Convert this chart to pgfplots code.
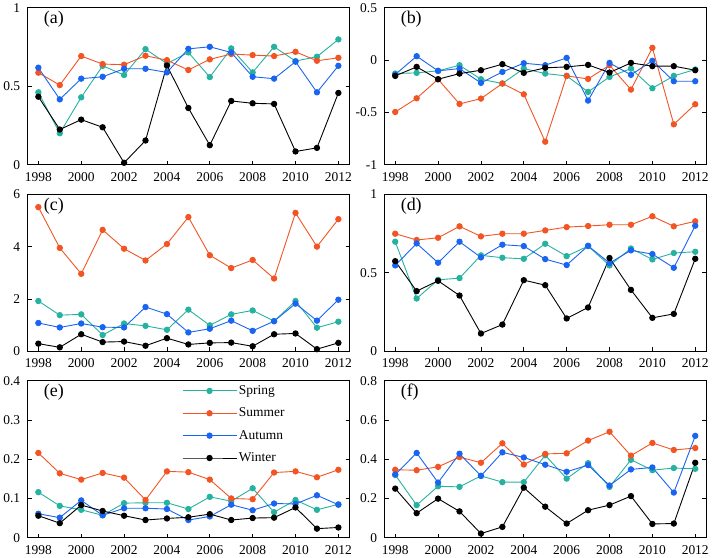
\documentclass[border=0pt]{standalone}
\usepackage{fontspec}
\setmainfont{Liberation Serif}
\usepackage{pgfplots}
\usepackage{pgfplotstable}
\pgfplotsset{compat=1.18}
\usepgfplotslibrary{groupplots}

\definecolor{spr}{RGB}{38,178,160}
\definecolor{sum}{RGB}{242,85,35}
\definecolor{aut}{RGB}{25,100,240}

% columns: year, spring, summer, autumn, winter
\pgfplotstableread{
yr sp su au wi
1998 0.462 0.587 0.619 0.434
1999 0.201 0.508 0.417 0.225
2000 0.430 0.693 0.549 0.288
2001 0.631 0.642 0.561 0.239
2002 0.572 0.638 0.612 0.013
2003 0.737 0.695 0.612 0.155
2004 0.645 0.667 0.589 0.633
2005 0.716 0.604 0.739 0.362
2006 0.559 0.672 0.752 0.125
2007 0.742 0.706 0.716 0.407
2008 0.589 0.699 0.561 0.392
2009 0.752 0.693 0.549 0.388
2010 0.661 0.720 0.657 0.085
2011 0.689 0.663 0.462 0.108
2012 0.799 0.682 0.631 0.458
}\dataA
\pgfplotstableread{
yr sp su au wi
1998 -0.128 -0.495 -0.137 -0.150
1999 -0.121 -0.364 0.038 -0.064
2000 -0.102 -0.182 -0.102 -0.182
2001 -0.048 -0.418 -0.080 -0.128
2002 -0.182 -0.367 -0.217 -0.096
2003 -0.223 -0.223 -0.112 -0.038
2004 -0.080 -0.326 -0.029 -0.121
2005 -0.128 -0.779 -0.048 -0.073
2006 -0.150 -0.150 0.022 -0.064
2007 -0.303 -0.179 -0.386 -0.045
2008 -0.160 -0.048 -0.026 -0.118
2009 -0.080 -0.281 -0.140 -0.026
2010 -0.268 0.118 -0.006 -0.057
2011 -0.150 -0.613 -0.201 -0.057
2012 -0.089 -0.421 -0.201 -0.096
}\dataB
\pgfplotstableread{
yr sp su au wi
1998 1.92 5.51 1.08 0.29
1999 1.38 3.95 0.91 0.15
2000 1.41 2.96 1.06 0.65
2001 0.62 4.64 0.92 0.35
2002 1.06 3.92 0.91 0.37
2003 0.97 3.47 1.69 0.21
2004 0.82 4.10 1.42 0.50
2005 1.59 5.13 0.72 0.26
2006 0.99 3.67 0.86 0.32
2007 1.41 3.18 1.17 0.33
2008 1.56 3.49 0.78 0.19
2009 1.15 2.78 1.15 0.65
2010 1.92 5.29 1.82 0.68
2011 0.90 4.00 1.17 0.08
2012 1.13 5.05 1.97 0.32
}\dataC
\pgfplotstableread{
yr sp su au wi
1998 0.698 0.749 0.547 0.574
1999 0.336 0.709 0.687 0.383
2000 0.455 0.723 0.564 0.449
2001 0.466 0.796 0.698 0.355
2002 0.611 0.732 0.598 0.113
2003 0.596 0.749 0.679 0.170
2004 0.589 0.749 0.670 0.453
2005 0.685 0.770 0.587 0.421
2006 0.606 0.791 0.549 0.209
2007 0.670 0.798 0.672 0.279
2008 0.547 0.806 0.562 0.594
2009 0.655 0.806 0.643 0.391
2010 0.585 0.860 0.619 0.213
2011 0.626 0.796 0.532 0.238
2012 0.634 0.828 0.800 0.589
}\dataD
\pgfplotstableread{
yr sp su au wi
1998 0.116 0.216 0.061 0.056
1999 0.081 0.164 0.051 0.037
2000 0.071 0.148 0.095 0.083
2001 0.057 0.165 0.057 0.068
2002 0.088 0.153 0.075 0.056
2003 0.089 0.096 0.075 0.045
2004 0.089 0.169 0.073 0.049
2005 0.073 0.167 0.045 0.052
2006 0.104 0.148 0.054 0.060
2007 0.093 0.100 0.084 0.045
2008 0.126 0.098 0.070 0.050
2009 0.065 0.166 0.087 0.051
2010 0.096 0.169 0.086 0.077
2011 0.071 0.154 0.108 0.023
2012 0.085 0.173 0.084 0.026
}\dataE
\pgfplotstableread{
yr sp su au wi
1998 0.320 0.346 0.322 0.250
1999 0.166 0.344 0.432 0.125
2000 0.262 0.361 0.281 0.199
2001 0.259 0.411 0.428 0.134
2002 0.315 0.382 0.315 0.021
2003 0.283 0.481 0.435 0.055
2004 0.283 0.373 0.409 0.255
2005 0.420 0.427 0.372 0.158
2006 0.301 0.430 0.336 0.072
2007 0.380 0.495 0.370 0.140
2008 0.259 0.540 0.266 0.166
2009 0.397 0.418 0.348 0.212
2010 0.344 0.483 0.358 0.070
2011 0.355 0.447 0.230 0.072
2012 0.351 0.457 0.519 0.382
}\dataF

\pgfplotsset{
  seas/.style={line width=0.9bp, mark=*, mark size=2.7bp, mark options={solid}},
}

\newcommand{\fourlines}[1]{%
  \addplot[seas, color=spr] table[x=yr, y=sp] {#1};
  \addplot[seas, color=sum] table[x=yr, y=su] {#1};
  \addplot[seas, color=aut] table[x=yr, y=au] {#1};
  \addplot[seas, color=black] table[x=yr, y=wi] {#1};
}
\newcommand{\panel}[1]{\node[anchor=west, font=\fontsize{18}{20}\selectfont, inner sep=0pt] at (rel axis cs:0.05,0.925) {#1};}

\begin{document}
\begin{tikzpicture}
\begin{groupplot}[
  group style={group size=2 by 3, horizontal sep=35bp, vertical sep=29.5bp},
  width=322bp, height=157bp, scale only axis,
  xmin=1997.5, xmax=2012.52,
  xtick={1998,2000,...,2012},
  tick align=inside, xtick pos=left, ytick pos=both,
  major tick length=4bp,
  axis line style={line width=0.8bp}, tick style={line width=0.8bp, black},
  /pgf/number format/assume math mode=true,
  /pgf/number format/1000 sep={},
  tick label style={font=\fontsize{13.5}{16}\selectfont},
  x tick label style={yshift=-4bp},
  y tick label style={xshift=-4bp},
  clip=false,
]
\nextgroupplot[ymin=0, ymax=1, ytick={0,0.5,1}]
\fourlines{\dataA}
\panel{(a)}
\nextgroupplot[ymin=-1, ymax=0.5, ytick={-1,-0.5,0,0.5}]
\fourlines{\dataB}
\panel{(b)}
\nextgroupplot[ymin=0, ymax=6, ytick={0,2,4,6}]
\fourlines{\dataC}
\panel{(c)}
\nextgroupplot[ymin=0, ymax=1, ytick={0,0.5,1}]
\fourlines{\dataD}
\panel{(d)}
\nextgroupplot[ymin=0, ymax=0.4, ytick={0,0.1,0.2,0.3,0.4},
  legend style={at={(rel axis cs:0.47,0.995)}, anchor=north west, draw=none, fill=none,
    font=\fontsize{13.5}{16}\selectfont, row sep=8bp},
  legend cell align=left,
  legend image code/.code={\draw[mark repeat=2, mark phase=2, #1] plot coordinates {(0bp,0bp) (27bp,0bp) (54bp,0bp)};},
]
\fourlines{\dataE}
\legend{Spring, Summer, Autumn, Winter}
\panel{(e)}
\nextgroupplot[ymin=0, ymax=0.8, ytick={0,0.2,0.4,0.6,0.8}]
\fourlines{\dataF}
\panel{(f)}
\end{groupplot}
\end{tikzpicture}
\end{document}
